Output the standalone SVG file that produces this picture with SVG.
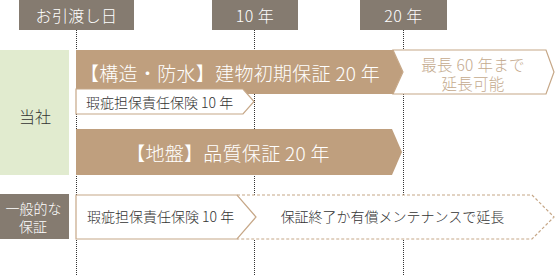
<svg xmlns="http://www.w3.org/2000/svg" width="555" height="275" viewBox="0 0 555 275">
<style>
text{font-family:"Noto Sans CJK JP","Noto Sans",sans-serif;font-weight:300;}
.hdr{fill:#857b70;}
.ht{fill:#fff;font-size:16px;text-anchor:middle;dominant-baseline:central;letter-spacing:0.4px;}
.bar{fill:#bf9f7e;}
.bt{fill:#fff;font-size:19px;dominant-baseline:central;letter-spacing:0.3px;}
.wa{fill:#fff;stroke:#c6a787;stroke-width:1.2;}
.da{fill:#fff;stroke:#c6a787;stroke-width:1.2;stroke-dasharray:3 2;}
.dt{fill:#333;font-size:14px;dominant-baseline:central;}
.tt{fill:#c4aa8e;font-size:15.5px;text-anchor:middle;dominant-baseline:central;letter-spacing:0.3px;}
.vl{stroke:#333;stroke-width:1;stroke-dasharray:1 1;fill:none;}
.lt{fill:#333;font-size:16px;text-anchor:middle;dominant-baseline:central;}
.gt{fill:#fff;font-size:14px;text-anchor:middle;dominant-baseline:central;}
</style>
<g id="connectors">
<line class="vl" x1="76.5" y1="30" x2="76.5" y2="275"/>
<line class="vl" x1="254.5" y1="30" x2="254.5" y2="275"/>
<line class="vl" x1="403.5" y1="30" x2="403.5" y2="275"/>
</g>
<g id="hdr-handover"><rect class="hdr" x="19" y="0" width="115" height="30"/><text class="ht" x="76.5" y="15">お引渡し日</text></g>
<g id="hdr-10"><rect class="hdr" x="212" y="0" width="86" height="30"/><text class="ht" x="255" y="15">10 年</text></g>
<g id="hdr-20"><rect class="hdr" x="360" y="0" width="87" height="30"/><text class="ht" x="403.5" y="15">20 年</text></g>
<g id="row-company"><rect x="0" y="50" width="69" height="125" fill="#e1ebcf"/><text class="lt" x="35" y="116">当社</text></g>
<g id="row-general"><rect class="hdr" x="0" y="194" width="69" height="45"/><text class="gt" x="33.5" y="207.5">一般的な</text><text class="gt" x="33" y="225.5">保証</text></g>
<g id="bar-structure"><polygon class="bar" points="76,50 393,50 403,72 393,94 76,94"/><text class="bt" x="80" y="72">【構造・防水】建物初期保証 20 年</text></g>
<g id="arrow-extend"><polygon class="wa" points="393,50 546,50 554,72 546,94 393,94 403,72"/><text class="tt" x="473" y="63.5">最長 60 年まで</text><text class="tt" x="473" y="82.5">延長可能</text></g>
<g id="arrow-insurance-top"><polygon class="wa" points="76,89 243,89 254,101.5 243,114 76,114"/><text class="dt" x="86" y="101.5">瑕疵担保責任保険 10 年</text></g>
<g id="bar-ground"><polygon class="bar" points="76,129 392,129 402,152 392,175 76,175"/><text class="bt" x="228" y="152" text-anchor="middle">【地盤】品質保証 20 年</text></g>
<g id="arrow-maintenance"><path class="da" d="M237,195 H532 L554,217 L532,239 H237"/><text class="dt" x="392.5" y="216" text-anchor="middle">保証終了か有償メンテナンスで延長</text></g>
<g id="arrow-insurance-bottom"><polygon class="wa" points="76,195 237,195 256,217 237,239 76,239"/><text class="dt" x="87" y="216">瑕疵担保責任保険 10 年</text></g>
</svg>
